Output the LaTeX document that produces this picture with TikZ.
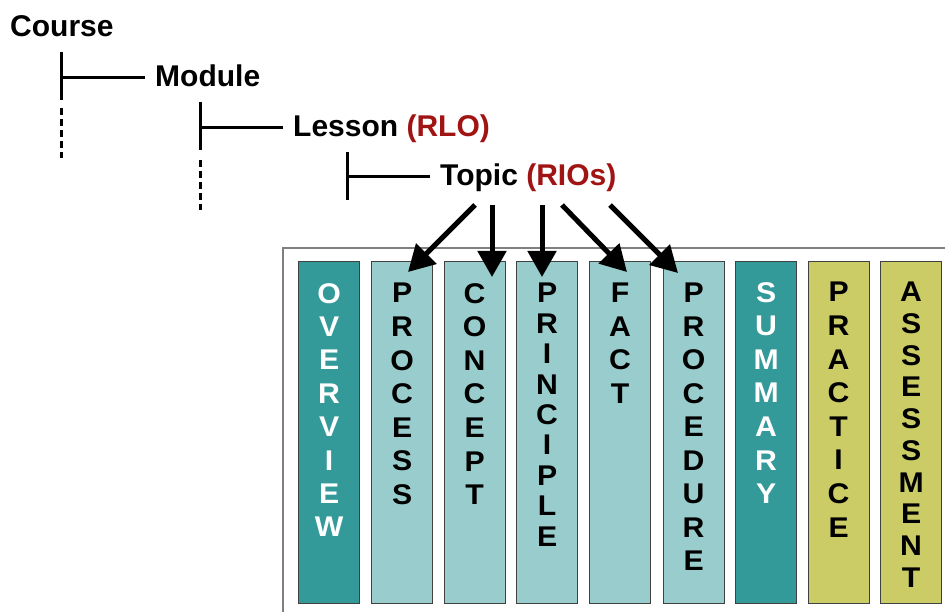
\documentclass[tikz,border=0pt]{standalone}
\usepackage{fontspec}
\setmainfont{Liberation Sans}
\usetikzlibrary{arrows.meta,calc}
\definecolor{darkteal}{RGB}{51,153,153}
\definecolor{lightteal}{RGB}{153,204,204}
\definecolor{olive}{RGB}{204,204,102}
\definecolor{rloRed}{RGB}{160,20,20}
\definecolor{boxgray}{RGB}{128,128,128}
\begin{document}
\begin{tikzpicture}[x=1pt,y=-1pt,
  lbl/.style={font=\fontsize{30}{31}\selectfont\bfseries, inner xsep=10pt, inner ysep=0pt,
              text height=18pt, text depth=0pt, anchor=base west},
  treeline/.style={line width=3pt, black},
  dashline/.style={line width=3pt, black, dash pattern=on 7pt off 4pt},
  col/.style={draw=black!75, line width=1.2pt, minimum width=61pt, minimum height=342pt,
              inner sep=0pt, anchor=north west},
  letters/.style={anchor=north, inner sep=0pt, align=center, xscale=1.06},
  arr/.style={line width=5pt, black, -{Triangle[length=26pt,width=28pt]}}
]
\useasboundingbox (0,0) rectangle (945,612);
\fill[white] (0,0) rectangle (945,612);

% tree labels
\node[lbl] (course) at (0,37) {Course};
\node[lbl] (module) at (145,87) {Module};
\node[lbl] (lesson) at (283,137) {Lesson \textcolor{rloRed}{(RLO)}};
\node[lbl] (topic) at (430,186) {Topic \textcolor{rloRed}{(RIOs)}};

% tree lines
\coordinate (c1) at (61,52);  \coordinate (c2) at (61,100);
\coordinate (c3) at (61,108); \coordinate (c4) at (61,158);
\coordinate (m1) at (200,102); \coordinate (m2) at (200,150);
\coordinate (m3) at (200,160); \coordinate (m4) at (200,210);
\coordinate (l1) at (347,152); \coordinate (l2) at (347,200);
\draw[treeline] (c1) -- (c2);
\draw[treeline] (c1 |- module.west) -- (module.west);
\draw[dashline] (c3) -- (c4);
\draw[treeline] (m1) -- (m2);
\draw[treeline] (m1 |- lesson.west) -- (lesson.west);
\draw[dashline] (m3) -- (m4);
\draw[treeline] (l1) -- (l2);
\draw[treeline] (l1 |- topic.west) -- (topic.west);

% outer box
\draw[boxgray, line width=2pt] (283,620) -- (283,248) -- (950,248);

% columns
\node[col, fill=darkteal]  (overview)   at (298,261) {};
\node[col, fill=lightteal] (process)    at (371,261) {};
\node[col, fill=lightteal] (concept)    at (443.5,261) {};
\node[col, fill=lightteal] (principle)  at (516,261) {};
\node[col, fill=lightteal] (fact)       at (589,261) {};
\node[col, fill=lightteal] (procedure)  at (662.5,261) {};
\node[col, fill=darkteal]  (summary)    at (735,261) {};
\node[col, fill=olive]     (practice)   at (807.5,261) {};
\node[col, fill=olive]     (assessment) at (880,261) {};

% column letters
\node[letters, white, font=\fontsize{28.5}{33.4}\selectfont\bfseries] (tOverview) at ($(overview.north)+(0,22)$) {O\\V\\E\\R\\V\\I\\E\\W};
\node[letters, font=\fontsize{28.5}{33.6}\selectfont\bfseries] (tProcess) at ($(process.north)+(0,22)$) {P\\R\\O\\C\\E\\S\\S};
\node[letters, font=\fontsize{28.5}{33.6}\selectfont\bfseries] (tConcept) at ($(concept.north)+(0,22)$) {C\\O\\N\\C\\E\\P\\T};
\node[letters, font=\fontsize{28.5}{30.4}\selectfont\bfseries] (tPrinciple) at ($(principle.north)+(0,22)$) {P\\R\\I\\N\\C\\I\\P\\L\\E};
\node[letters, font=\fontsize{28.5}{33.4}\selectfont\bfseries] (tFact) at ($(fact.north)+(0,22)$) {F\\A\\C\\T};
\node[letters, font=\fontsize{28.5}{33.5}\selectfont\bfseries] (tProcedure) at ($(procedure.north)+(0,22)$) {P\\R\\O\\C\\E\\D\\U\\R\\E};
\node[letters, white, font=\fontsize{28.5}{33.6}\selectfont\bfseries] (tSummary) at ($(summary.north)+(0,21)$) {S\\U\\M\\M\\A\\R\\Y};
\node[letters, font=\fontsize{28.5}{33.6}\selectfont\bfseries] (tPractice) at ($(practice.north)+(0,21)$) {P\\R\\A\\C\\T\\I\\C\\E};
\node[letters, font=\fontsize{28.5}{31.7}\selectfont\bfseries] (tAssessment) at ($(assessment.north)+(0,21)$) {A\\S\\S\\E\\S\\S\\M\\E\\N\\T};

% arrows from Topic
\coordinate (s1) at (475,205);
\coordinate (s2) at (492,205);
\coordinate (s3) at (542,205);
\coordinate (s4) at (562,205);
\coordinate (s5) at (610,205);
\draw[arr] (s1) -- ($(process.north west)+(37,11)$);
\draw[arr] (s2) -- ($(concept.north west)+(48.5,16)$);
\draw[arr] (s3) -- ($(principle.north west)+(26,16)$);
\draw[arr] (s4) -- ($(fact.north west)+(38,11)$);
\draw[arr] (s5) -- ($(procedure.north west)+(15.5,12)$);
\end{tikzpicture}
\end{document}
